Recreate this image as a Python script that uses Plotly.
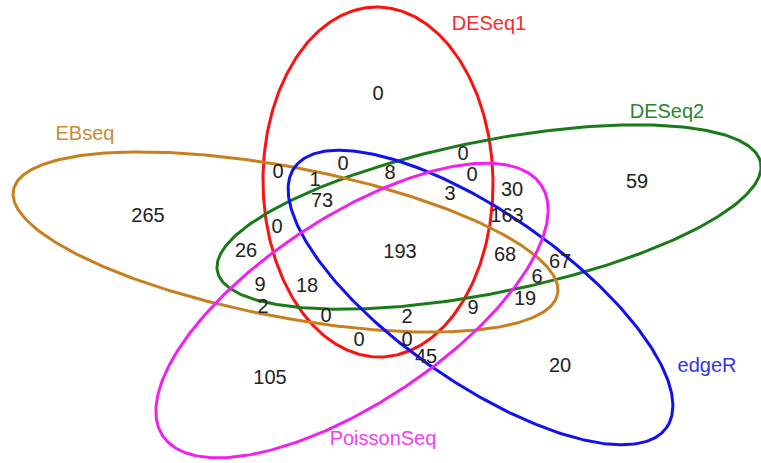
import numpy as np
import plotly.graph_objects as go

W, H = 761, 463

# Gene sets compared
set_names = ["DESeq1", "DESeq2", "EBseq", "edgeR", "PoissonSeq"]
set_colors = ["#FF1010", "#1A7A1A", "#C8801E", "#1010F0", "#F020F0"]
name_colors = ["#FF2A2A", "#2A862A", "#CC8A36", "#3434E8", "#F040F0"]

# Ellipse geometry: centre x, centre y, semi-axis a, semi-axis b, rotation (deg, pixel space)
ellipses = [
    (378, 182, 115, 175, -0.7),
    (489, 217, 277, 76, -11.3),
    (285.5, 242, 277, 75, 10.8),
    (480.5, 297.5, 227, 84.7, 34.9),
    (352, 310.5, 227, 93, -33.5),
]

# Set name label positions
name_pos = [(489, 25), (667, 113), (85, 135), (707, 367), (383, 440)]

# Region counts and where each is written
region_counts = [0, 59, 265, 0, 0, 0, 8, 0, 1, 73, 3, 30, 163, 0, 26, 193, 68,
                 67, 6, 9, 18, 19, 2, 0, 2, 9, 0, 0, 45, 20, 105]
count_pos = [(378, 95), (637, 183), (148, 217), (463, 155), (278, 173),
             (343, 165), (390, 174), (472, 176), (315, 181), (322, 202),
             (450, 195), (512, 191), (507, 217), (277, 228), (246, 252),
             (400, 253), (505, 256), (560, 263), (537, 278), (260, 286),
             (307, 287), (525, 300), (263, 308), (326, 317), (407, 318),
             (473, 309), (359, 341), (407, 341), (426, 358), (560, 367),
             (270, 379)]

fig = go.Figure()
t = np.linspace(0, 2 * np.pi, 400)
for (cx, cy, a, b, rot), col in zip(ellipses, set_colors):
    r = np.deg2rad(rot)
    x = cx + a * np.cos(t) * np.cos(r) - b * np.sin(t) * np.sin(r)
    y = cy + a * np.cos(t) * np.sin(r) + b * np.sin(t) * np.cos(r)
    fig.add_trace(go.Scatter(x=x, y=y, mode="lines",
                             line=dict(color=col, width=3), hoverinfo="skip"))

fig.add_trace(go.Scatter(
    x=[p[0] for p in count_pos], y=[p[1] for p in count_pos],
    mode="text", text=[str(v) for v in region_counts],
    textfont=dict(family="Liberation Sans, Arial", size=20, color="#222222"),
    hoverinfo="skip"))

fig.add_trace(go.Scatter(
    x=[p[0] for p in name_pos], y=[p[1] for p in name_pos],
    mode="text", text=set_names,
    textfont=dict(family="Liberation Sans, Arial", size=20, color=name_colors),
    hoverinfo="skip"))

fig.update_layout(
    width=W, height=H, margin=dict(l=0, r=0, t=0, b=0),
    paper_bgcolor="white", plot_bgcolor="white", showlegend=False,
    xaxis=dict(range=[0, W], visible=False, fixedrange=True),
    yaxis=dict(range=[H, 0], visible=False, fixedrange=True),
)
fig.write_html("out.html")
